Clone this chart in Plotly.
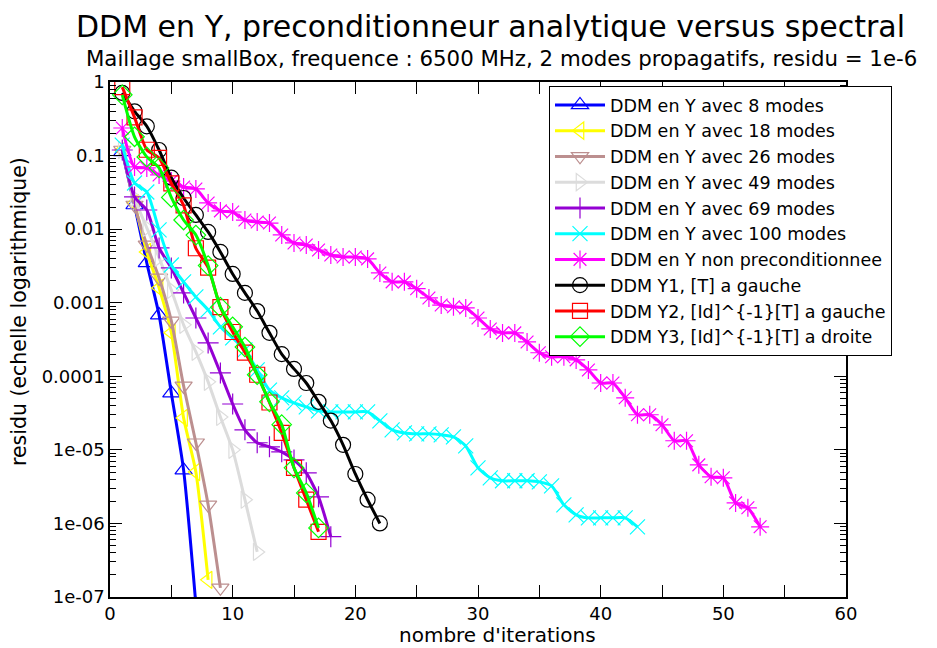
import plotly.graph_objects as go

# ---------------- data ----------------
it_8 = list(range(1, 8))
res_8 = [0.112, 0.0213, 0.00347, 6.8e-4, 5.9e-5, 5.3e-6, 7.9e-8]

it_18 = list(range(1, 9))
res_18 = [0.119, 0.0227, 0.0049, 0.00159, 3.9e-4, 2.72e-5, 5.0e-6, 1.71e-7]

it_26 = list(range(1, 10))
res_26 = [0.119, 0.0213, 0.0061, 0.00217, 5.66e-4, 7.4e-5, 1.25e-5, 1.79e-6, 1.33e-7]

it_49 = list(range(1, 13))
res_49 = [0.119, 0.0265, 0.0104, 0.0041, 0.00149, 5.0e-4, 2.15e-4, 8.4e-5,
          2.8e-5, 1.0e-5, 2.1e-6, 4.1e-7]

it_69 = list(range(1, 19))
res_69 = [0.119, 0.0274, 0.0182, 0.00556, 0.00297, 0.00136, 6.2e-4, 2.84e-4,
          1.11e-4, 4.2e-5, 1.87e-5, 1.25e-5, 1.1e-5, 9.4e-6, 7.3e-6, 4.87e-6,
          2.3e-6, 6.6e-7]

it_100 = list(range(1, 44))
res_100 = [0.139, 0.0424, 0.032, 0.00975, 0.00326, 0.00192, 0.0012, 7.98e-4,
           4.69e-4, 3.32e-4, 2.28e-4, 1.22e-4, 6.5e-5, 5.1e-5, 4.35e-5, 3.84e-5,
           3.39e-5, 3.28e-5, 3.28e-5, 3.28e-5, 3.28e-5, 2.48e-5, 1.87e-5, 1.7e-5,
           1.65e-5, 1.65e-5, 1.6e-5, 1.5e-5, 1.13e-5, 5.7e-6, 4.17e-6, 3.8e-6,
           3.8e-6, 3.8e-6, 3.67e-6, 3.24e-6, 1.79e-6, 1.31e-6, 1.19e-6, 1.19e-6,
           1.19e-6, 1.19e-6, 9.0e-7]

it_nonprec = list(range(1, 54))
res_nonprec = [0.237, 0.070, 0.068, 0.0545, 0.045, 0.0374, 0.0352, 0.0227,
               0.0177, 0.0171, 0.0133, 0.0125, 0.0121, 0.00834, 0.00649, 0.0061,
               0.00521, 0.00446, 0.00419, 0.00419, 0.00394, 0.00254, 0.00192,
               0.00192, 0.00155, 0.00116, 9.3e-4, 8.8e-4, 8.5e-4, 6.2e-4, 4.4e-4,
               3.89e-4, 3.89e-4, 2.93e-4, 2.09e-4, 1.84e-4, 1.84e-4, 1.67e-4,
               1.22e-4, 8.1e-5, 8.1e-5, 5.1e-5, 3.0e-5, 3.0e-5, 2.19e-5, 1.33e-5,
               1.33e-5, 6.25e-6, 4.3e-6, 4.17e-6, 1.9e-6, 1.63e-6, 9.0e-7]

it_y1 = list(range(1, 23))
res_y1 = [0.71, 0.40, 0.25, 0.119, 0.05, 0.0265, 0.0156, 0.00916, 0.0049,
          0.00246, 0.00136, 7.7e-4, 3.9e-4, 2.0e-4, 1.26e-4, 8.1e-5, 4.5e-5,
          2.5e-5, 1.17e-5, 4.7e-6, 2.1e-6, 1.0e-6]

it_y2 = list(range(1, 18))
res_y2 = [0.85, 0.33, 0.12, 0.093, 0.042, 0.021, 0.0055, 0.003, 8.7e-4, 4.0e-4,
          2.1e-4, 1.05e-4, 4.4e-5, 1.7e-5, 5.7e-6, 2.1e-6, 7.7e-7]

it_y3 = list(range(1, 18))
res_y3 = [0.67, 0.18, 0.096, 0.068, 0.027, 0.0133, 0.0083, 0.0032, 8.7e-4,
          4.7e-4, 2.5e-4, 1.05e-4, 4.5e-5, 2.2e-5, 5.7e-6, 2.6e-6, 8.7e-7]

y_tick_vals = [1, 0.1, 0.01, 0.001, 0.0001, 1e-5, 1e-6, 1e-7]
y_tick_text = ["1", "0.1", "0.01", "0.001", "0.0001", "1e-05", "1e-06", "1e-07"]
x_tick_vals = [0, 10, 20, 30, 40, 50, 60]

series = [
    ("DDM en Y avec 8 modes", it_8, res_8, "#0000ff", "triangle-up-open"),
    ("DDM en Y avec 18 modes", it_18, res_18, "#ffff00", "triangle-left-open"),
    ("DDM en Y avec 26 modes", it_26, res_26, "#bc8f8f", "triangle-down-open"),
    ("DDM en Y avec 49 modes", it_49, res_49, "#dcdcdc", "triangle-right-open"),
    ("DDM en Y avec 69 modes", it_69, res_69, "#9400d3", "cross-thin-open"),
    ("DDM en Y avec 100 modes", it_100, res_100, "#00ffff", "x-thin-open"),
    ("DDM en Y non preconditionnee", it_nonprec, res_nonprec, "#ff00ff", "asterisk-open"),
    ("DDM Y1, [T] a gauche", it_y1, res_y1, "#000000", "circle-open"),
    ("DDM Y2, [Id]^{-1}[T] a gauche", it_y2, res_y2, "#ff0000", "square-open"),
    ("DDM Y3, [Id]^{-1}[T] a droite", it_y3, res_y3, "#00ff00", "diamond-open"),
]

FONT = "DejaVu Sans"
OFF = 8                      # page body margin of the html page
PL, PT, PR, PB = 110, 82, 846, 597   # plot area in page pixels
W, H = 937 - OFF, 648 - OFF
L, T = PL - OFF, PT - OFF
R, B = W - (PR - OFF), H - (PB - OFF)
PW, PH = PR - PL, PB - PT


def px(xp):
    return (xp - PL) / PW


def py(yp):
    return (PB - yp) / PH


fig = go.Figure()
for name, xs, ys, col, sym in series:
    fig.add_trace(go.Scatter(
        x=xs, y=ys, name=name, mode="lines+markers",
        line=dict(color=col, width=3, shape="spline", smoothing=0.6),
        marker=dict(symbol=sym, size=15, color=col, line=dict(color=col, width=1.2)),
    ))

minor_vals = [m * 10.0 ** e for e in range(-7, 0) for m in range(2, 10)]

fig.update_layout(
    width=W, height=H, autosize=False,
    margin=dict(l=L, r=R, t=T, b=B, autoexpand=False),
    paper_bgcolor="white", plot_bgcolor="white",
    font=dict(family=FONT, color="black", size=18),
    showlegend=True,
    legend=dict(
        x=px(549), y=py(86), xanchor="left", yanchor="top",
        bgcolor="white", bordercolor="black", borderwidth=1,
        font=dict(family=FONT, size=17.5, color="black"),
        itemwidth=50, tracegroupgap=0,
    ),
    xaxis=dict(
        range=[0, 60], tickmode="array", tickvals=x_tick_vals, automargin=False,
        ticks="inside", ticklen=12, tickwidth=1, tickcolor="black",
        showline=True, linecolor="black", linewidth=1.5, mirror="allticks",
        showgrid=False, zeroline=False,
        minor=dict(ticks="inside", dtick=5, ticklen=12, tickcolor="black", showgrid=False),
        tickfont=dict(size=18),
    ),
    yaxis=dict(
        type="log", range=[-7, 0], tickmode="array", automargin=False,
        tickvals=y_tick_vals, ticktext=y_tick_text,
        ticks="inside", ticklen=12, tickwidth=1, tickcolor="black",
        showline=True, linecolor="black", linewidth=1.5, mirror="allticks",
        showgrid=False, zeroline=False,
        minor=dict(ticks="inside", tickvals=minor_vals, ticklen=6, tickcolor="black", showgrid=False),
        tickfont=dict(size=18),
    ),
    annotations=[
        dict(text="DDM en Y, preconditionneur analytique versus spectral",
             xref="paper", yref="paper", x=px(490), y=py(26), height=30,
             xanchor="center", yanchor="middle", showarrow=False, borderpad=0,
             font=dict(family=FONT, size=30)),
        dict(text="Maillage smallBox, frequence : 6500 MHz, 2 modes propagatifs, residu = 1e-6",
             xref="paper", yref="paper", x=px(501), y=py(58),
             xanchor="center", yanchor="middle", showarrow=False,
             font=dict(family=FONT, size=21.3)),
        dict(text="nombre d'iterations",
             xref="paper", yref="paper", x=px(497), y=py(635), height=20,
             xanchor="center", yanchor="middle", showarrow=False, borderpad=0,
             font=dict(family=FONT, size=20)),
        dict(text="residu (echelle logarithmique)",
             xref="paper", yref="paper", x=px(19), y=py(312),
             xanchor="center", yanchor="middle", showarrow=False, textangle=-90,
             font=dict(family=FONT, size=20.5)),
    ],
)

fig.write_html("out.html")
